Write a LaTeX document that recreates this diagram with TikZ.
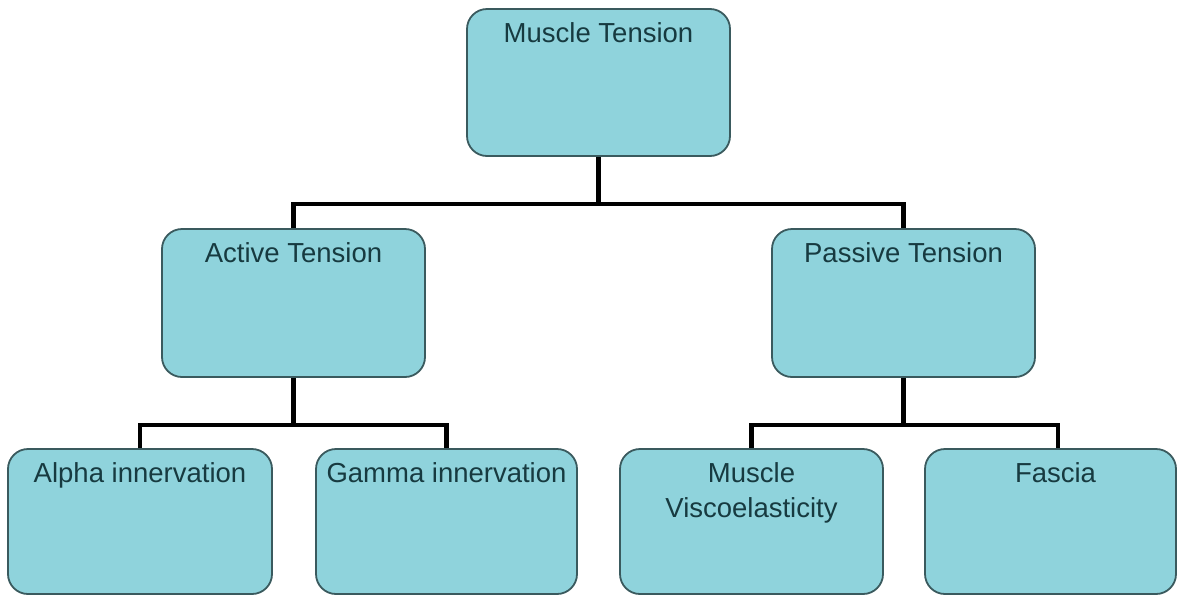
\documentclass[tikz,border=0pt]{standalone}
\usepackage{fontspec}
\setmainfont{Liberation Sans}
\usepackage{xcolor}
\usepackage{tikz}
\usetikzlibrary{positioning, calc}
\definecolor{mtfill}{HTML}{8FD3DC}
\definecolor{mtedge}{HTML}{3A5A5E}
\definecolor{mttext}{HTML}{173A40}

\begin{document}
\begin{tikzpicture}[x=1pt, y=-1pt,
  tbox/.style={draw=mtedge, fill=mtfill, line width=1.8pt, rounded corners=20pt,
    inner sep=0pt, minimum height=146pt},
  tlbl/.style={font=\fontsize{27.5}{35}\selectfont, text=mttext, align=center,
    anchor=north, inner sep=0pt},
  conn/.style={line width=4.5pt, black}]
\useasboundingbox (0,0) rectangle (1177,595);
\fill[white] (0,0) rectangle (1177,595);
% boxes
\node[tbox, minimum width=263pt, minimum height=147pt] (top) at (598.5,82.5) {};
\node[tbox, minimum width=263pt, minimum height=148pt] (active) at (293.5,303) {};
\node[tbox, minimum width=263pt, minimum height=148pt] (passive) at (903.5,303) {};
\node[tbox, minimum width=264pt, minimum height=145pt] (alpha) at (140,521.5) {};
\node[tbox, minimum width=261pt, minimum height=145pt] (gamma) at (446.5,521.5) {};
\node[tbox, minimum width=263pt, minimum height=145pt] (visco) at (751.5,521.5) {};
\node[tbox, minimum width=251pt, minimum height=145pt] (fascia) at (1050.5,521.5) {};
% labels
\node[tlbl] (topl) at ([yshift=-14pt]top.north) {Muscle Tension};
\node[tlbl] (activel) at ([yshift=-14pt]active.north) {Active Tension};
\node[tlbl] (passivel) at ([yshift=-14pt]passive.north) {Passive Tension};
\node[tlbl] (alphal) at ([yshift=-14pt]alpha.north) {Alpha innervation};
\node[tlbl] (gammal) at ([yshift=-14pt]gamma.north) {Gamma innervation};
\node[tlbl] (viscol) at ([yshift=-14pt]visco.north) {Muscle\\Viscoelasticity};
\node[tlbl] (fascial) at ([xshift=5pt,yshift=-14pt]fascia.north) {Fascia};
% connectors
\coordinate (barA) at (0,204);
\coordinate (barB) at (0,425);
\coordinate (fasciastem) at ([xshift=7.5pt]fascia.north);
\draw[conn] (top.south) -- (top.south |- barA);
\draw[conn] (active.north) |- (top.south |- barA) -| (passive.north);
\draw[conn] (active.south) -- (active.south |- barB);
\draw[conn] (alpha.north) |- (active.south |- barB) -| (gamma.north);
\draw[conn] (passive.south) -- (passive.south |- barB);
\draw[conn] (visco.north) |- (passive.south |- barB) -| (fasciastem);
\end{tikzpicture}
\end{document}
